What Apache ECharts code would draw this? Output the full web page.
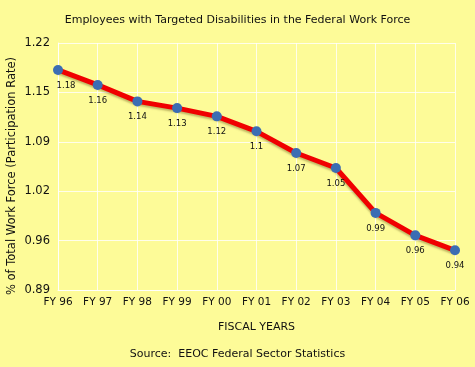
<!DOCTYPE html>
<html><head><meta charset="utf-8">
<script src="https://cdn.jsdelivr.net/npm/echarts@6/dist/echarts.min.js"></script>
<style>html,body{margin:0;padding:0;background:#FDFB98;}#c{width:475px;height:367px;}</style>
</head><body><div id="c"></div>
<script>
const categories = ['FY 96','FY 97','FY 98','FY 99','FY 00','FY 01','FY 02','FY 03','FY 04','FY 05','FY 06'];
const participation = [1.184, 1.164, 1.142, 1.133, 1.122, 1.102, 1.073, 1.053, 0.993, 0.963, 0.943];
const yTickLabels = ['0.89','0.96','1.02','1.09','1.15','1.22'];
const Y_MIN = 0.89, Y_MAX = 1.22;
const Y_STEP = (Y_MAX - Y_MIN) / (yTickLabels.length - 1);

const font = '"DejaVu Sans", sans-serif';
const chart = echarts.init(document.getElementById('c'));
chart.setOption({
  backgroundColor: '#FDFB98',
  title: {
    text: 'Employees with Targeted Disabilities in the Federal Work Force',
    left: 'center', top: 10,
    textStyle: {fontFamily: font, fontSize: 11, fontWeight: 'normal', color: '#111'}
  },
  grid: {left: 58, right: 20, top: 43, bottom: 77, containLabel: false, outerBoundsMode: 'none'},
  xAxis: {
    type: 'category', data: categories, boundaryGap: false,
    name: 'FISCAL YEARS', nameLocation: 'middle', nameGap: 32,
    nameTextStyle: {fontFamily: font, fontSize: 11, color: '#111'},
    axisLine: {lineStyle: {color: 'rgba(255,255,255,0.85)', width: 1}},
    axisTick: {show: false},
    axisLabel: {fontFamily: font, fontSize: 10.5, color: '#111', margin: 7, interval: 0},
    splitLine: {show: true, lineStyle: {color: 'rgba(255,255,255,0.8)', width: 1}}
  },
  yAxis: {
    type: 'value', min: 0, max: Y_MAX - Y_MIN, interval: Y_STEP,
    axisLine: {show: true, lineStyle: {color: 'rgba(255,255,255,0.85)', width: 1}},
    axisTick: {show: false},
    axisLabel: {fontFamily: font, fontSize: 11.5, color: '#111', margin: 8,
      formatter: (v) => yTickLabels[Math.round(v / Y_STEP)]},
    splitLine: {show: true, lineStyle: {color: 'rgba(255,255,255,0.8)', width: 1}}
  },
  graphic: [{
    type: 'text', left: 'center', top: 349,
    style: {text: 'Source:  EEOC Federal Sector Statistics', fontFamily: font, fontSize: 11, fill: '#111'}
  }, {
    type: 'text', x: 12, y: 176, rotation: Math.PI / 2,
    style: {text: '% of Total Work Force (Participation Rate)', fontFamily: font, fontSize: 11.5, fill: '#111',
      align: 'center', verticalAlign: 'middle'}
  }],
  series: [{
    type: 'line',
    data: participation.map((v, i) => ({
      value: v - Y_MIN,
      label: i === 0 ? {offset: [8, 0]} : {}
    })),
    symbol: 'circle', symbolSize: 10,
    itemStyle: {color: '#3B6DB3'},
    lineStyle: {color: '#F00000', width: 5, shadowColor: 'rgba(80,60,0,0.35)', shadowOffsetY: 2, shadowBlur: 2},
    label: {
      show: true, position: 'bottom', distance: 6,
      fontFamily: font, fontSize: 8.5, color: '#111',
      formatter: (p) => String(parseFloat((participation[p.dataIndex]).toFixed(2)))
    },
    z: 5
  }]
});
</script></body></html>
